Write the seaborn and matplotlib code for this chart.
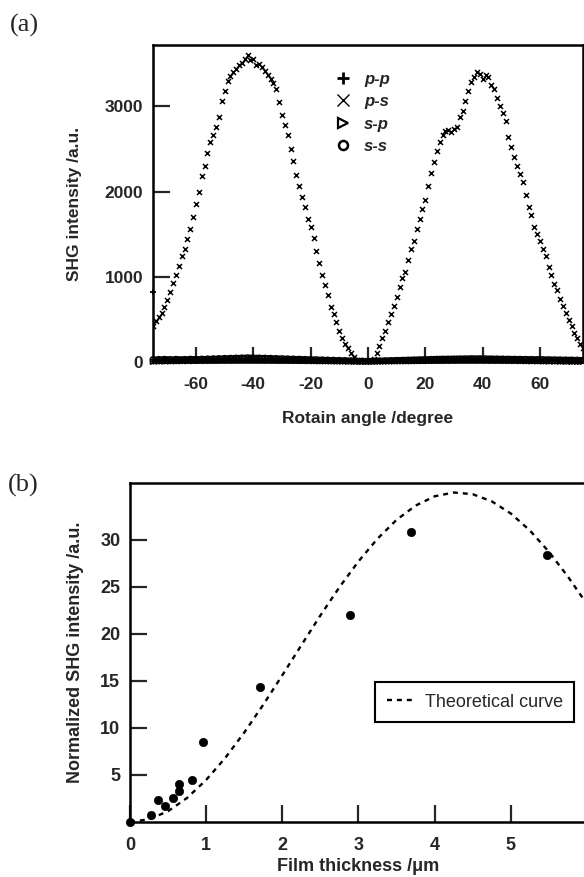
import numpy as np
import pandas as pd
import seaborn as sns
import matplotlib.pyplot as plt
from matplotlib.lines import Line2D

# ---- (a) rotation angle scan, 1 degree steps ----
angle = list(range(-75, 76))

# p-s signal
ps = [420, 480, 530, 580, 640, 730, 820, 930, 1020, 1130, 1240, 1330, 1440, 1560, 1700,
      1850, 2000, 2180, 2300, 2450, 2580, 2660, 2760, 2880, 3060, 3180, 3300, 3360, 3400, 3440,
      3480, 3510, 3560, 3600, 3540, 3560, 3480, 3500, 3460, 3420, 3370, 3320, 3270, 3200, 3050,
      2900, 2780, 2660, 2500, 2360, 2200, 2060, 1940, 1820, 1680, 1580, 1460, 1300, 1160, 1020,
      900, 790, 650, 560, 470, 360, 280, 210, 160, 100, 60, 25, 10, 5, 5,
      8, 15, 40, 110, 190, 280, 360, 470, 560, 660, 760, 880, 980, 1060, 1200,
      1330, 1420, 1560, 1680, 1800, 1900, 2060, 2220, 2350, 2480, 2580, 2660, 2710, 2720, 2700,
      2740, 2760, 2880, 2950, 3060, 3180, 3280, 3340, 3400, 3380, 3320, 3370, 3340, 3250, 3200,
      3100, 3000, 2920, 2830, 2640, 2520, 2400, 2300, 2210, 2110, 1960, 1820, 1720, 1590, 1500,
      1420, 1330, 1240, 1110, 1020, 920, 840, 740, 660, 580, 490, 420, 340, 280, 210,
      160]

# the other three polarisation combinations stay near zero
pp = [820, 18, 22, 15, 20, 24, 17, 21, 19, 25, 22, 18, 23, 26, 20,
      24, 27, 22, 25, 29, 26, 30, 28, 32, 29, 33, 31, 35, 32, 36,
      34, 38, 35, 40, 37, 41, 38, 36, 39, 35, 37, 33, 34, 30, 32,
      28, 30, 26, 27, 24, 25, 22, 23, 20, 21, 18, 19, 16, 17, 14,
      15, 13, 14, 12, 13, 11, 12, 10, 11, 9, 10, 8, 9, 8, 7,
      8, 9, 8, 10, 9, 11, 10, 12, 11, 13, 12, 14, 13, 15, 14,
      16, 15, 17, 16, 18, 17, 19, 18, 20, 19, 21, 20, 22, 21, 23,
      22, 24, 23, 25, 24, 26, 25, 27, 26, 25, 27, 24, 26, 23, 25,
      22, 24, 21, 23, 20, 22, 19, 21, 18, 20, 17, 19, 16, 18, 15,
      17, 14, 16, 13, 15, 12, 14, 11, 13, 10, 12, 9, 11, 8, 10,
      9]
sp = [5, 8, 6, 9, 7, 10, 8, 11, 9, 12, 10, 13, 11, 14, 12,
      15, 13, 16, 14, 17, 15, 18, 16, 19, 17, 20, 18, 21, 19, 22,
      20, 23, 21, 24, 22, 23, 21, 22, 20, 21, 19, 20, 18, 19, 17,
      18, 16, 17, 15, 16, 14, 15, 13, 14, 12, 13, 11, 12, 10, 11,
      9, 10, 8, 9, 7, 8, 6, 7, 5, 6, 4, 5, 3, 4, 3,
      4, 3, 5, 4, 6, 5, 7, 6, 8, 7, 9, 8, 10, 9, 11,
      10, 12, 11, 13, 12, 14, 13, 15, 14, 16, 15, 17, 16, 18, 17,
      19, 18, 20, 19, 21, 20, 22, 21, 20, 19, 21, 18, 20, 17, 19,
      16, 18, 15, 17, 14, 16, 13, 15, 12, 14, 11, 13, 10, 12, 9,
      11, 8, 10, 7, 9, 6, 8, 5, 7, 4, 6, 3, 5, 4, 3,
      4]
ss = [30, 26, 32, 28, 34, 29, 31, 27, 33, 30, 28, 32, 29, 35, 31,
      33, 30, 36, 32, 38, 34, 40, 36, 42, 38, 44, 40, 46, 42, 48,
      45, 50, 47, 52, 48, 50, 46, 49, 44, 47, 42, 45, 40, 43, 38,
      41, 36, 39, 34, 37, 32, 35, 30, 33, 28, 31, 26, 29, 24, 27,
      22, 25, 20, 23, 18, 21, 16, 19, 14, 17, 12, 15, 10, 13, 9,
      11, 10, 13, 12, 15, 14, 17, 16, 19, 18, 21, 20, 23, 22, 25,
      24, 27, 26, 29, 28, 31, 30, 33, 32, 35, 34, 36, 35, 37, 36,
      38, 37, 39, 38, 40, 39, 41, 40, 39, 41, 38, 40, 37, 39, 36,
      38, 35, 37, 34, 36, 33, 35, 32, 34, 31, 33, 30, 32, 29, 31,
      28, 30, 27, 29, 26, 28, 25, 27, 24, 26, 23, 25, 22, 24, 21,
      23]

# ---- (b) thickness dependence ----
thickness = [0, 0.27, 0.37, 0.46, 0.56, 0.64, 0.64, 0.82, 0.96, 1.71, 2.89, 3.69, 5.48]
shg_norm = [0, 0.7, 2.3, 1.7, 2.6, 3.3, 4.0, 4.5, 8.5, 14.3, 22.0, 30.8, 28.4]

curve_x = [0, 0.25, 0.5, 0.75, 1.0, 1.25, 1.5, 1.75, 2.0, 2.25, 2.5, 2.75, 3.0,
           3.25, 3.5, 3.75, 4.0, 4.25, 4.5, 4.75, 5.0, 5.25, 5.5, 5.75, 6.0]
curve_y = [0, 0.29, 1.15, 2.56, 4.47, 6.80, 9.50, 12.46, 15.59, 18.78, 21.94, 24.94, 27.68,
           30.09, 32.09, 33.60, 34.59, 34.99, 34.81, 34.05, 32.76, 30.96, 28.70, 26.05, 23.13]

sns.set_style("ticks")
plt.rcParams['font.family'] = ['Liberation Sans', 'DejaVu Sans']
plt.rcParams['axes.linewidth'] = 1.8
plt.rcParams['axes.unicode_minus'] = False

fig = plt.figure(figsize=(5.84, 8.77), dpi=100)
ax1 = fig.add_axes([153 / 584, 1 - 362 / 877, 430 / 584, 317 / 877])
ax2 = fig.add_axes([130 / 584, 1 - 822 / 877, 457 / 584, 339 / 877])

# panel (a)
sns.scatterplot(x=angle, y=ss, marker='o', s=14, facecolor='none', edgecolor='black',
                linewidth=1.1, ax=ax1, clip_on=False)
sns.scatterplot(x=angle, y=sp, marker='>', s=14, facecolor='none', edgecolor='black',
                linewidth=1.1, ax=ax1, clip_on=False)
sns.scatterplot(x=angle, y=pp, marker='+', s=18, color='black', linewidth=1.3,
                ax=ax1, clip_on=False)
sns.scatterplot(x=angle, y=ps, marker='x', s=13, color='black', linewidth=1.1, ax=ax1)

ax1.set_xlim(-75, 75)
ax1.set_ylim(0, 3720)
ax1.set_xticks([-60, -40, -20, 0, 20, 40, 60])
ax1.set_yticks([0, 1000, 2000, 3000])
ax1.tick_params(axis='x', direction='in', length=11, width=1.6, labelsize=12.5, pad=11)
ax1.tick_params(axis='y', direction='in', length=12.5, width=1.6, labelsize=12.5, pad=7)
ax1.set_xlabel("Rotain angle /degree", fontsize=12.5, fontweight='bold')
ax1.set_ylabel("SHG intensity /a.u.", fontsize=12.5, fontweight='bold')
ax1.xaxis.set_label_coords(0.5, -0.155)
ax1.yaxis.set_label_coords(-0.166, 0.5)

leg_a = [Line2D([], [], marker='+', ls='none', color='black', ms=8, mew=2.0),
         Line2D([], [], marker='x', ls='none', color='black', ms=8, mew=1.0),
         Line2D([], [], marker='>', ls='none', mfc='none', mec='black', ms=6.5, mew=1.6),
         Line2D([], [], marker='o', ls='none', mfc='none', mec='black', ms=6.5, mew=1.8)]
ax1.legend(leg_a, ["p-p", "p-s", "s-p", "s-s"], loc='upper left',
           bbox_to_anchor=(0.423, 0.916), frameon=False, handlelength=1.0,
           handletextpad=0.75, labelspacing=0.45, borderpad=0, borderaxespad=0,
           prop={'style': 'italic', 'weight': 'bold', 'size': 12})

# panel (b)
sns.lineplot(x=curve_x, y=curve_y, ax=ax2, color='black', linewidth=1.7,
             linestyle=(0, (2.1, 2.1)), label="Theoretical curve")
sns.scatterplot(x=thickness, y=shg_norm, ax=ax2, s=36, color='black',
                edgecolor='black', clip_on=False, zorder=3)

ax2.set_xlim(0, 6)
ax2.set_ylim(0, 36)
ax2.set_xticks([0, 1, 2, 3, 4, 5])
ax2.set_yticks([5, 10, 15, 20, 25, 30])
ax2.tick_params(axis='x', direction='in', length=12.5, width=1.6, labelsize=13, pad=11)
ax2.tick_params(axis='y', direction='in', length=12.5, width=1.6, labelsize=13, pad=7)
ax2.set_xlabel("Film thickness /\u03bcm", fontsize=13, fontweight='bold')
ax2.set_ylabel("Normalized SHG intensity /a.u.", fontsize=13, fontweight='bold')
ax2.xaxis.set_label_coords(0.5, -0.105)
ax2.yaxis.set_label_coords(-0.100, 0.5)

leg_b = ax2.legend(loc='upper left', bbox_to_anchor=(0.536, 0.413), fancybox=False,
                   edgecolor='black', framealpha=1, fontsize=13, handlelength=1.5,
                   borderpad=0.65, handletextpad=0.6, borderaxespad=0)
leg_b.get_frame().set_linewidth(1.5)

for ax in (ax1, ax2):
    for lab in ax.get_xticklabels() + ax.get_yticklabels():
        lab.set_fontweight('bold')
    for sp_ in ax.spines.values():
        sp_.set_visible(True)
        sp_.set_color('black')

fig.text(10 / 584, 1 - 25 / 877, "(a)", family='Liberation Serif', fontsize=19, va='center')
fig.text(8 / 584, 1 - 485 / 877, "(b)", family='Liberation Serif', fontsize=19, va='center')

fig.savefig("out.png", dpi=100)
